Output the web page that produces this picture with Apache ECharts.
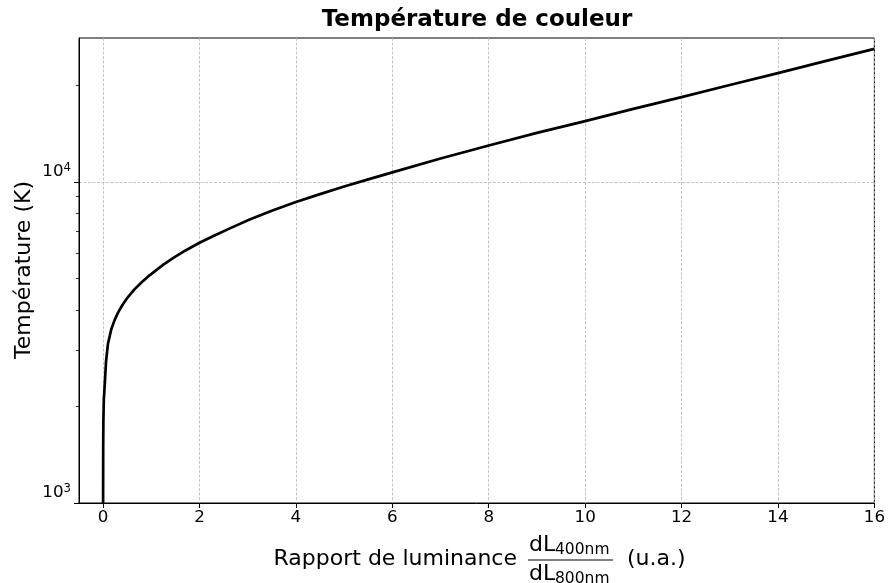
<!DOCTYPE html>
<html>
<head>
<meta charset="utf-8">
<script src="https://cdn.jsdelivr.net/npm/echarts@6/dist/echarts.min.js"></script>
<style>html,body{margin:0;padding:0;background:#fff}#c{width:888px;height:583px}</style>
</head>
<body>
<div id="c"></div>
<script>
// Data
const ratio = [0, 0.002, 0.006, 0.015, 0.035, 0.06, 0.10, 0.17, 0.24, 0.31, 0.41, 0.52, 0.65, 0.80, 0.97, 1.25, 1.45, 1.7, 2.0, 2.3, 2.63, 3.04, 3.5, 4, 4.5, 5, 5.5, 6, 7, 8, 9, 10, 11, 12, 13, 14, 15, 16];
const temperature = [1000, 1500, 1800, 2100, 2350, 2750, 3130, 3480, 3720, 3920, 4160, 4390, 4630, 4870, 5130, 5530, 5790, 6110, 6470, 6800, 7170, 7640, 8140, 8660, 9170, 9680, 10190, 10720, 11840, 13000, 14230, 15480, 16900, 18380, 20050, 21850, 23850, 26000];
const xTicks = [0, 2, 4, 6, 8, 10, 12, 14, 16];
const yMajorTicks = [1000, 10000];
const yMinorTicks = [2000, 3000, 4000, 5000, 6000, 7000, 8000, 9000, 20000];

const FONT = 'DejaVu Sans';
const chart = echarts.init(document.getElementById('c'), null, {renderer: 'canvas'});
const gridLine = {show: true, lineStyle: {color: '#b8b8b8', width: 0.8, type: [3, 1.5]}};

chart.setOption({
  animation: false,
  backgroundColor: '#fff',
  grid: {left: 79, right: 13, top: 38, bottom: 80, show: true, borderColor: '#000', borderWidth: 1, backgroundColor: 'transparent'},
  xAxis: {
    type: 'value', min: -0.5, max: 16,
    axisLine: {show: true, onZero: false, lineStyle: {color: '#000', width: 1}},
    axisTick: {show: true, length: 5, customValues: xTicks, lineStyle: {color: '#000', width: 1}},
    axisLabel: {show: true, customValues: xTicks, margin: 6, color: '#000', fontFamily: FONT, fontSize: 16.7},
    splitLine: gridLine
  },
  yAxis: [{
    type: 'log', logBase: 10, min: 1000, max: 28100, position: 'left',
    axisLine: {show: true, onZero: false, lineStyle: {color: '#000', width: 1}},
    axisTick: {show: true, length: 5, customValues: yMajorTicks, lineStyle: {color: '#000', width: 1}},
    axisLabel: {
      show: true, customValues: yMajorTicks, margin: 8, color: '#000', verticalAlign: 'bottom',
      formatter: v => '{b|10}{s|' + Math.round(Math.log10(v)) + '}',
      rich: {
        b: {fontFamily: FONT, fontSize: 16.7, color: '#000', lineHeight: 20},
        s: {fontFamily: FONT, fontSize: 11.7, color: '#000', padding: [0, 0, 9, 0], lineHeight: 20}
      }
    },
    splitLine: gridLine
  }, {
    type: 'log', logBase: 10, min: 1000, max: 28100, position: 'left',
    axisLine: {show: false, onZero: false},
    axisTick: {show: true, length: 3, customValues: yMinorTicks, lineStyle: {color: '#000', width: 0.8}},
    axisLabel: {show: false},
    splitLine: {show: false}
  }],
  series: [{
    type: 'line', yAxisIndex: 0,
    data: ratio.map((r, i) => [r, temperature[i]]),
    showSymbol: false, smooth: false,
    lineStyle: {color: '#000', width: 2.7, join: 'round'},
    clip: true
  }],
  graphic: [
    {type: 'text', x: 477, y: 20, style: {text: 'Température de couleur', fontFamily: FONT, fontSize: 23, fontWeight: 'bold', fill: '#000', align: 'center', verticalAlign: 'middle'}},
    {type: 'text', x: 24, y: 270, rotation: Math.PI / 2, style: {text: 'Température (K)', fontFamily: FONT, fontSize: 22, fill: '#000', align: 'center', verticalAlign: 'middle'}},
    {type: 'text', x: 517, y: 559, style: {text: 'Rapport de luminance', fontFamily: FONT, fontSize: 22, fill: '#000', align: 'right', verticalAlign: 'middle'}},
    {type: 'text', x: 529, y: 545, style: {text: 'dL', fontFamily: FONT, fontSize: 22, fill: '#000', align: 'left', verticalAlign: 'middle'}},
    {type: 'text', x: 555, y: 549.5, style: {text: '400nm', fontFamily: FONT, fontSize: 15.5, fill: '#000', align: 'left', verticalAlign: 'middle'}},
    {type: 'line', shape: {x1: 528, y1: 560, x2: 613, y2: 560}, style: {stroke: '#000', lineWidth: 1}},
    {type: 'text', x: 529, y: 574, style: {text: 'dL', fontFamily: FONT, fontSize: 22, fill: '#000', align: 'left', verticalAlign: 'middle'}},
    {type: 'text', x: 555, y: 578.5, style: {text: '800nm', fontFamily: FONT, fontSize: 15.5, fill: '#000', align: 'left', verticalAlign: 'middle'}},
    {type: 'text', x: 627, y: 559, style: {text: '(u.a.)', fontFamily: FONT, fontSize: 22, fill: '#000', align: 'left', verticalAlign: 'middle'}}
  ]
});
</script>
</body>
</html>
